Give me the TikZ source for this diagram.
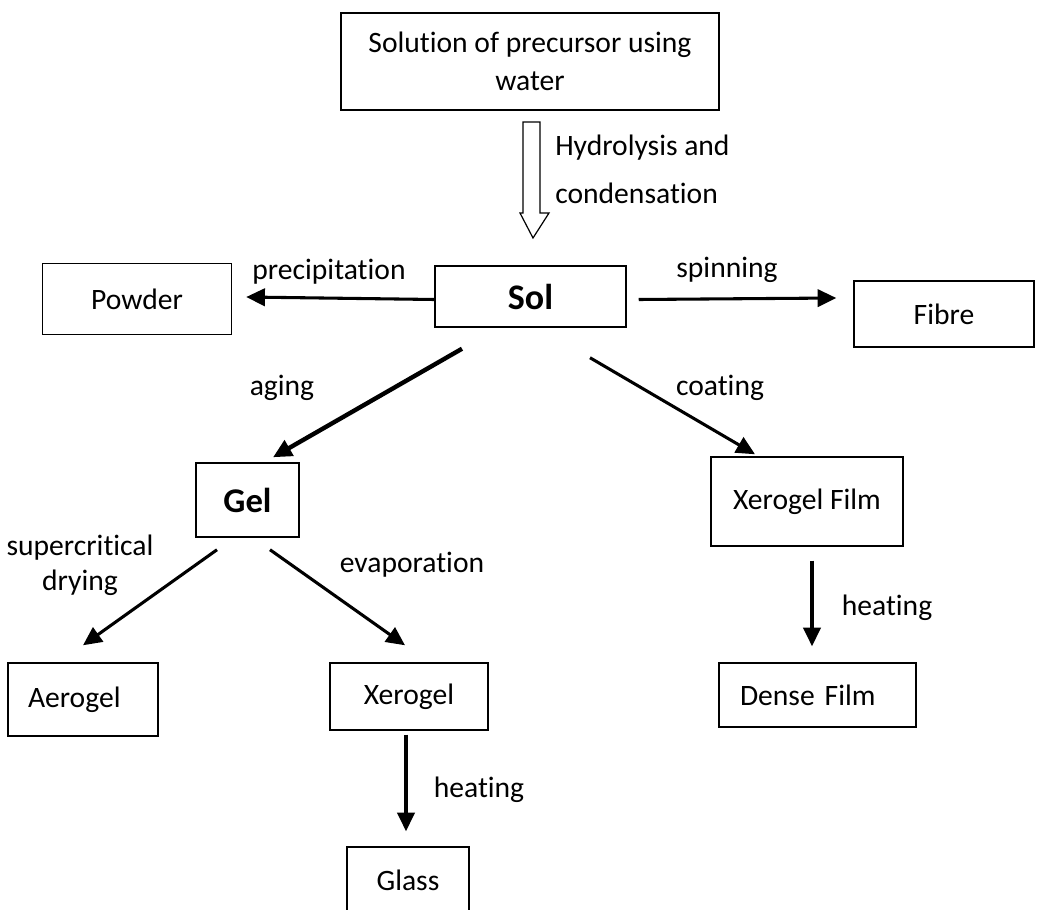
\documentclass[tikz,border=0pt]{standalone}
\usepackage{fontspec}
\setmainfont[Ligatures={NoCommon}]{Carlito}
\usetikzlibrary{arrows.meta}

\tikzset{
    box/.style={draw, line width=1.1pt, inner sep=0pt},
    lbl/.style={inner sep=0pt},
    arr/.style={-{Triangle[length=14pt,width=13pt]}, line width=2.3pt},
}

\begin{document}
\begin{tikzpicture}[x=0.75pt, y=-0.75pt, font=\fontsize{22.2}{28.5}\selectfont]
    \useasboundingbox (0,0) rectangle (1037,909);
    \clip (0,0) rectangle (1037,909);
    \node[box,minimum width=283.5pt,minimum height=72.75pt,align=center] at (530,61.5) (top) {Solution of precursor using\\water};
    \node[box,minimum width=143.25pt,minimum height=45.75pt,font=\fontsize{27}{30}\selectfont\bfseries] at (530.5,296.5) (sol) {Sol};
    \node[box,minimum width=141.75pt,minimum height=53.25pt] at (137,299) (powder) {Powder};
    \node[box,minimum width=135pt,minimum height=49.5pt] at (944,314) (fibre) {Fibre};
    \node[box,minimum width=77.25pt,minimum height=55.5pt,font=\fontsize{26}{30}\selectfont\bfseries] at (247.5,500) (gel) {Gel};
    \node[box,minimum width=144pt,minimum height=66.75pt] at (807,501.5) (xfilm) {Xerogel Film};
    \node[box,minimum height=54.75pt,inner xsep=15pt,text width=82.5pt,align=left] at (83,699.5) (aerogel) {Aerogel};
    \node[box,minimum width=118.5pt,minimum height=50.25pt] at (409,696.5) (xerogel) {Xerogel};
    \node[box,minimum width=91.5pt,minimum height=49.5pt] at (408,880) (glass) {Glass};
    \node[box,minimum height=48pt,inner xsep=15.75pt,text width=116.25pt,align=left] at (817.5,695) (dense) {Dense Film};

    % labels
    \node[lbl,anchor=west,align=left,font=\fontsize{22.2}{36}\selectfont] at (555,169) (lhyd) {Hydrolysis and\\condensation};
    \node[lbl] at (329,272) (lprec) {precipitation};
    \node[lbl] at (727,270) (lspin) {spinning};
    \node[lbl] at (282,388) (laging) {aging};
    \node[lbl] at (720,388) (lcoat) {coating};
    \node[lbl,align=center,font=\fontsize{22.2}{26}\selectfont] at (80,565) (lsuper) {supercritical\\drying};
    \node[lbl] at (412,565) (levap) {evaporation};
    \node[lbl] at (479,790) (lheat1) {heating};
    \node[lbl] at (887,608) (lheat2) {heating};

    % hollow arrow
    \draw[line width=0.9pt] (523,122) -- (540,122) -- (540,213) -- (549,213) -- (533,238) -- (520,213) -- (523,213) -- cycle;

    \draw[arr] ([shift={(0,3)}]sol.west) -- ([shift={(14,-2)}]powder.east);
    \draw[arr] ([shift={(12,3)}]sol.east) -- ([shift={(-17,-16)}]fibre.west);
    \draw[arr,line width=3.3pt] ([shift={(-68.5,21)}]sol.south) -- ([shift={(25.5,-5)}]gel.north);
    \draw[arr] ([shift={(59.5,30)}]sol.south) -- ([shift={(-52,-2)}]xfilm.north);
    \draw[arr] ([shift={(-30.5,12)}]gel.south) -- ([shift={(0,-17)}]aerogel.north);
    \draw[arr] ([shift={(22.5,12)}]gel.south) -- ([shift={(-4,-17)}]xerogel.north);
    \draw[arr] ([shift={(-3,4)}]xerogel.south) -- ([shift={(-2,-15)}]glass.north);
    \draw[arr] ([shift={(5,14)}]xfilm.south) -- ([shift={(-5.5,-16)}]dense.north);
\end{tikzpicture}
\end{document}
